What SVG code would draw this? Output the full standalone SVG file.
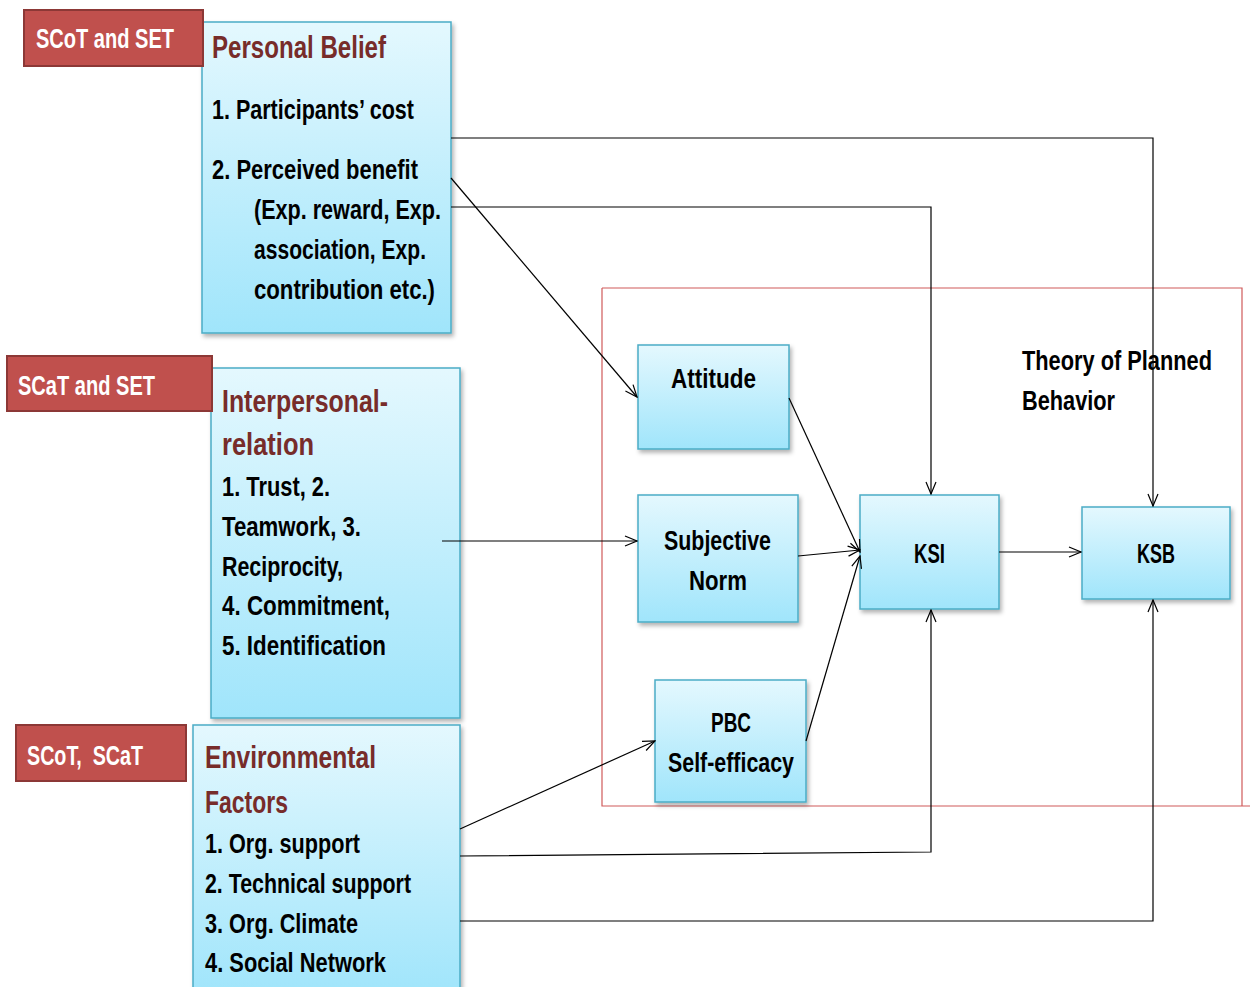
<svg xmlns="http://www.w3.org/2000/svg" width="1253" height="987" viewBox="0 0 1253 987">
  <style>
    text { font-family: "Liberation Sans", Arial, sans-serif; font-weight: bold; }
    .tag rect { fill: #c0504d; stroke: #8c3836; stroke-width: 2; }
    .tag text { fill: #ffffff; font-size: 27px; }
    .box { fill: url(#blue); stroke: #4bacc6; stroke-width: 1.5; filter: url(#shadow); }
    .title { fill: #772c2a; font-size: 31px; }
    .body { fill: #000000; font-size: 27px; }
    .node { fill: #000000; font-size: 27px; }
    .wire { fill: none; stroke: #000000; stroke-width: 1.2; }
    .arr { marker-end: url(#open); }
  </style>
  <defs>
    <linearGradient id="blue" x1="0" y1="0" x2="0" y2="1">
      <stop offset="0" stop-color="#e4f8fe"/>
      <stop offset="1" stop-color="#a0e5fb"/>
    </linearGradient>
    <filter id="shadow" x="-10%" y="-10%" width="125%" height="125%">
      <feDropShadow dx="2" dy="3" stdDeviation="2" flood-color="#000" flood-opacity="0.3"/>
    </filter>
    <marker id="open" viewBox="0 0 14 12" refX="13" refY="6" markerWidth="14" markerHeight="12" markerUnits="userSpaceOnUse" orient="auto">
      <path d="M1,1 L13,6 L1,11" fill="none" stroke="#000" stroke-width="1.2"/>
    </marker>
  </defs>

  <rect width="1253" height="987" fill="#ffffff"/>

  <!-- Theory of Planned Behavior frame -->
  <g id="tpb-frame">
    <path d="M602,288 H1242 V806 M602,288 V806 H1250" fill="none" stroke="#d05a5a" stroke-width="1.2"/>
    <text class="node" x="1022" y="370" textLength="190" lengthAdjust="spacingAndGlyphs">Theory of Planned</text>
    <text class="node" x="1022" y="410" textLength="93" lengthAdjust="spacingAndGlyphs">Behavior</text>
  </g>

  <!-- Personal Belief -->
  <g id="personal-belief">
    <rect class="box" x="202" y="22" width="249" height="311"/>
    <text class="title" x="212" y="58" textLength="174" lengthAdjust="spacingAndGlyphs">Personal Belief</text>
    <text class="body" x="212" y="119" textLength="202" lengthAdjust="spacingAndGlyphs">1. Participants’ cost</text>
    <text class="body" x="212" y="179" textLength="206" lengthAdjust="spacingAndGlyphs">2. Perceived benefit</text>
    <text class="body" x="254" y="219" textLength="187" lengthAdjust="spacingAndGlyphs">(Exp. reward, Exp.</text>
    <text class="body" x="254" y="259" textLength="172" lengthAdjust="spacingAndGlyphs">association, Exp.</text>
    <text class="body" x="254" y="299" textLength="181" lengthAdjust="spacingAndGlyphs">contribution etc.)</text>
  </g>
  <g id="tag-scot-set" class="tag">
    <rect x="24" y="10" width="179" height="56"/>
    <text x="36" y="48" textLength="138" lengthAdjust="spacingAndGlyphs">SCoT and SET</text>
  </g>

  <!-- Interpersonal relation -->
  <g id="interpersonal-relation">
    <rect class="box" x="211" y="368" width="249" height="350"/>
    <text class="title" x="222" y="412" textLength="166" lengthAdjust="spacingAndGlyphs">Interpersonal-</text>
    <text class="title" x="222" y="455" textLength="92" lengthAdjust="spacingAndGlyphs">relation</text>
    <text class="body" x="222" y="496" textLength="108" lengthAdjust="spacingAndGlyphs">1. Trust, 2.</text>
    <text class="body" x="222" y="536" textLength="139" lengthAdjust="spacingAndGlyphs">Teamwork, 3.</text>
    <text class="body" x="222" y="576" textLength="121" lengthAdjust="spacingAndGlyphs">Reciprocity,</text>
    <text class="body" x="222" y="615" textLength="168" lengthAdjust="spacingAndGlyphs">4. Commitment,</text>
    <text class="body" x="222" y="655" textLength="164" lengthAdjust="spacingAndGlyphs">5. Identification</text>
  </g>
  <g id="tag-scat-set" class="tag">
    <rect x="7" y="356" width="205" height="55"/>
    <text x="18" y="395" textLength="137" lengthAdjust="spacingAndGlyphs">SCaT and SET</text>
  </g>

  <!-- Environmental Factors -->
  <g id="environmental-factors">
    <rect class="box" x="193" y="725" width="267" height="270"/>
    <text class="title" x="205" y="768" textLength="171" lengthAdjust="spacingAndGlyphs">Environmental</text>
    <text class="title" x="205" y="813" textLength="83" lengthAdjust="spacingAndGlyphs">Factors</text>
    <text class="body" x="205" y="853" textLength="155" lengthAdjust="spacingAndGlyphs">1. Org. support</text>
    <text class="body" x="205" y="893" textLength="206" lengthAdjust="spacingAndGlyphs">2. Technical support</text>
    <text class="body" x="205" y="933" textLength="153" lengthAdjust="spacingAndGlyphs">3. Org. Climate</text>
    <text class="body" x="205" y="972" textLength="181" lengthAdjust="spacingAndGlyphs">4. Social Network</text>
  </g>
  <g id="tag-scot-scat" class="tag">
    <rect x="16" y="725" width="170" height="56"/>
    <text x="27" y="765" textLength="116" lengthAdjust="spacingAndGlyphs" xml:space="preserve">SCoT,  SCaT</text>
  </g>

  <!-- TPB constructs -->
  <g id="attitude">
    <rect class="box" x="638" y="345" width="151" height="104"/>
    <text class="node" x="671" y="388" textLength="85" lengthAdjust="spacingAndGlyphs">Attitude</text>
  </g>
  <g id="subjective-norm">
    <rect class="box" x="638" y="495" width="160" height="127"/>
    <text class="node" x="664" y="550" textLength="107" lengthAdjust="spacingAndGlyphs">Subjective</text>
    <text class="node" x="689" y="590" textLength="58" lengthAdjust="spacingAndGlyphs">Norm</text>
  </g>
  <g id="pbc">
    <rect class="box" x="655" y="680" width="151" height="122"/>
    <text class="node" x="711" y="732" textLength="40" lengthAdjust="spacingAndGlyphs">PBC</text>
    <text class="node" x="668" y="772" textLength="126" lengthAdjust="spacingAndGlyphs">Self-efficacy</text>
  </g>
  <g id="ksi">
    <rect class="box" x="860" y="495" width="139" height="114"/>
    <text class="node" x="914" y="563" textLength="31" lengthAdjust="spacingAndGlyphs">KSI</text>
  </g>
  <g id="ksb">
    <rect class="box" x="1082" y="507" width="148" height="92"/>
    <text class="node" x="1137" y="563" textLength="38" lengthAdjust="spacingAndGlyphs">KSB</text>
  </g>

  <!-- Connectors -->
  <g id="connectors">
    <path class="wire arr" d="M451,138 H1153 V506"/>
    <path class="wire arr" d="M451,207 H931 V494"/>
    <path class="wire arr" d="M451,178 L637,397"/>
    <path class="wire arr" d="M442,541 H637"/>
    <path class="wire arr" d="M789,398 L860,552"/>
    <path class="wire arr" d="M798,556 L860,550"/>
    <path class="wire arr" d="M806,741 L860,556"/>
    <path class="wire arr" d="M460,829 L655,741"/>
    <path class="wire arr" d="M460,856 L931,852 V610"/>
    <path class="wire arr" d="M460,921 H1153 V600"/>
    <path class="wire arr" d="M999,552 H1081"/>
  </g>
</svg>
